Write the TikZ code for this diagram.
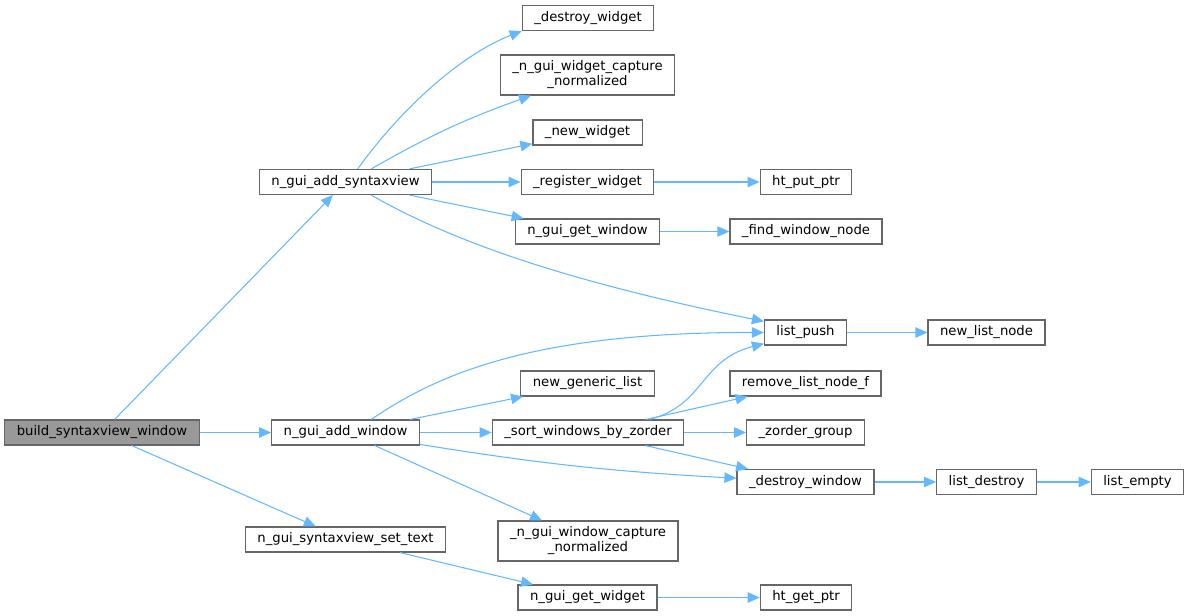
\documentclass[tikz,border=0pt]{standalone}
\usepackage{fontspec}
\setmainfont{DejaVu Sans}
\usetikzlibrary{arrows.meta}
\definecolor{edgeblue}{HTML}{63B8FF}
\definecolor{boxgray}{HTML}{666666}
\definecolor{rootgray}{HTML}{999999}
\tikzset{
	fn/.style={draw=boxgray,fill=white,line width=0.8pt,inner xsep=0.3cm,inner ysep=0pt,minimum height=0.625cm,font=\fontsize{9.4}{10.7}\selectfont},
	fntwo/.style={fn,minimum height=1cm,align=center},
	call/.style={draw=edgeblue,line width=0.75pt,-{Triangle[length=0.3cm,width=0.26cm]}}
}
\begin{document}
\begin{tikzpicture}[x=0.025cm,y=-0.025cm]
	%\draw[step=50,gray!15] (0,0) grid (1188,616); %Hilfsgitter
	\useasboundingbox (0,0) rectangle (1188,616);
	\node[fn,fill=rootgray] (bsw) at (102,432.5) {build\_syntaxview\_window};
	\node[fn] (nas) at (345.5,182) {n\_gui\_add\_syntaxview}; \node[fn] (naw) at (345.5,432.5) {n\_gui\_add\_window}; \node[fn] (nsst) at (345.5,539.5) {n\_gui\_syntaxview\_set\_text};
	
	\node[fn] (dw) at (588,18) {\_destroy\_widget}; \node[fntwo] (ngwcn) at (587.5,75) {\_n\_gui\_widget\_capture\\\_normalized};
	\node[fn] (nw) at (587.5,132.5) {\_new\_widget}; \node[fn] (rw) at (587.5,182) {\_register\_widget}; \node[fn] (ngw) at (587.5,231.5) {n\_gui\_get\_window};
	\node[fn] (ngl) at (587.5,383.5) {new\_generic\_list}; \node[fn] (swbz) at (588,432.5) {\_sort\_windows\_by\_zorder};
	\node[fntwo] (ngwincn) at (588,541) {\_n\_gui\_window\_capture\\\_normalized}; \node[fn] (ngwid) at (587.5,597.5) {n\_gui\_get\_widget};
	
	\node[fn] (htput) at (806,182) {ht\_put\_ptr}; \node[fn] (fwn) at (806,231.5) {\_find\_window\_node};
	\node[fn] (lp) at (805.5,332.5) {list\_push}; \node[fn] (rlnf) at (805.5,383.5) {remove\_list\_node\_f};
	\node[fn] (zg) at (805.5,432.5) {\_zorder\_group}; \node[fn] (dwin) at (805.5,482) {\_destroy\_window}; \node[fn] (htget) at (806,597.5) {ht\_get\_ptr};
	\node[fn] (nln) at (986.5,332.5) {new\_list\_node}; \node[fn] (ld) at (986.5,482) {list\_destroy}; \node[fn] (le) at (1137.5,482) {list\_empty};
	
	\draw[call] (bsw) -- (nas); \draw[call] (bsw) -- (naw); \draw[call] (bsw) -- (nsst);
	
	\draw[call] (nas.47) .. controls (400,110) and (460,55) .. (dw.south west); \draw[call] (nas.27) to[bend left=5] (ngwcn.200);
	\draw[call] (nas) -- (nw); \draw[call] (nas) -- (rw); \draw[call] (nas) -- (ngw);
	\draw[call] (nas.-27) .. controls (450,240) and (560,280) .. (lp.165);
	
	\draw[call] (naw.27) .. controls (430,380) and (520,332) .. (lp.west);
	\draw[call] (naw) -- (ngl); \draw[call] (naw) -- (swbz); \draw[call] (naw) to[bend right=3] (dwin); \draw[call] (naw) -- (ngwincn);
	\draw[call] (nsst) -- (ngwid);
	
	\draw[call] (swbz.12) .. controls (705,405) and (700,360) .. (lp.195);
	\draw[call] (swbz) -- (rlnf); \draw[call] (swbz) -- (zg); \draw[call] (swbz) -- (dwin);
	
	\draw[call] (rw) -- (htput); \draw[call] (ngw) -- (fwn); \draw[call] (lp) -- (nln);
	\draw[call] (dwin) -- (ld); \draw[call] (ld) -- (le); \draw[call] (ngwid) -- (htget);
\end{tikzpicture}
\end{document}
